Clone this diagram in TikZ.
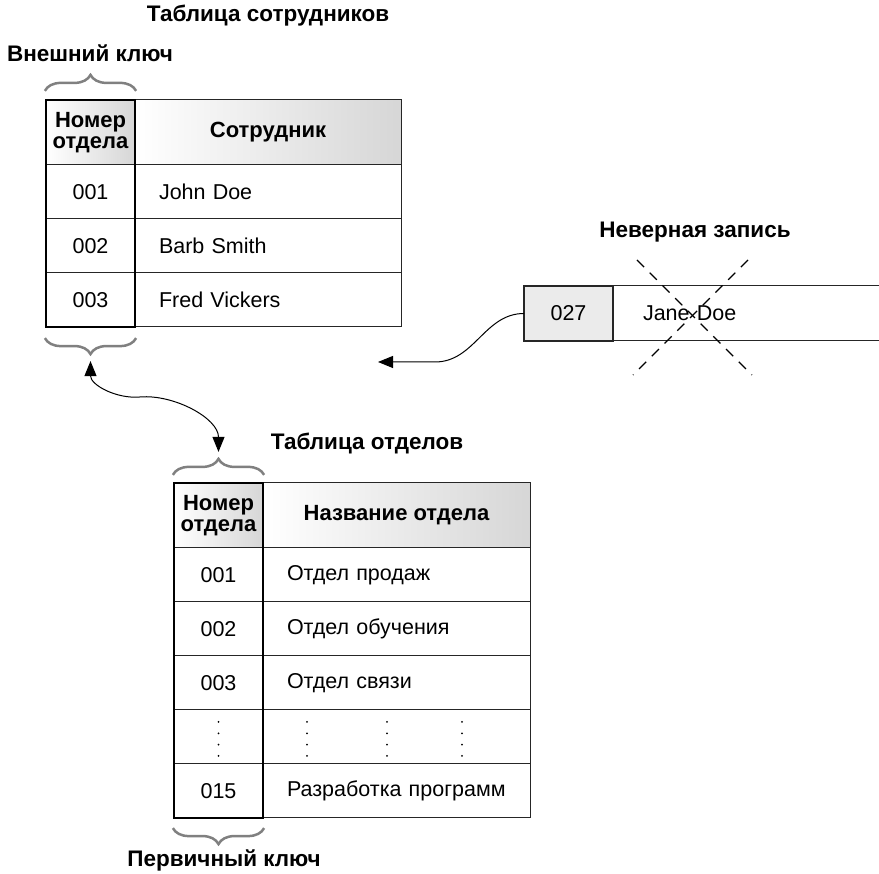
\documentclass[tikz,border=0pt]{standalone}
\usepackage{fontspec}
\setmainfont{Liberation Sans}
\usetikzlibrary{positioning,fit,arrows.meta,decorations.pathreplacing}

\begin{document}
\begin{tikzpicture}
		[x=1pt, y=1pt, font=\fontsize{21.5}{21}\selectfont,
		node distance=0pt,
		cell/.style={draw=black!85, line width=1pt, inner sep=0pt, outer sep=0pt,
			minimum height=54pt},
		keycell/.style={cell, minimum width=89pt, align=center},
		namecell/.style={cell, minimum width=266pt, text width=266pt, align=left,
			execute at begin node={\hspace*{#1}}},
		namecell/.default=24pt,
		head/.style={minimum height=65pt, left color=white, right color=black!16,
			font=\fontsize{22}{21}\selectfont\bfseries},
		keyframe/.style={draw, line width=2.2pt, inner sep=0pt},
		keybrace/.style={draw=black!50, line width=2.5pt, decorate,
			decoration={brace, amplitude=16pt}},
		title/.style={font=\fontsize{22.5}{22}\selectfont\bfseries, anchor=base},
		tip/.style={Triangle[length=15pt,width=12pt]},
		link/.style={line width=1pt, -{Triangle[length=15pt,width=12pt]}},
		twolink/.style={line width=1pt, {Triangle[length=15pt,width=12pt]}-{Triangle[length=15pt,width=12pt]}},
		cross/.style={dash pattern=on 10pt off 8pt, line width=1.3pt},
		dots/.style={line width=2pt, line cap=round, dash pattern=on 0pt off 11.33pt},
		]
		\useasboundingbox (0,0) rectangle (879,874);
		
		% employees
		\node[keycell, head, anchor=north west] (ek0) at (46,774) {Номер\\отдела};
		\node[cell, head, minimum width=266pt, right=of ek0] (en0) {Сотрудник};
		\node[keycell, below=of ek0] (ek1) {001};
		\node[namecell, right=of ek1] (en1) {John Doe};
		\node[keycell, below=of ek1] (ek2) {002};
		\node[namecell, right=of ek2] (en2) {Barb Smith};
		\node[keycell, below=of ek2] (ek3) {003};
		\node[namecell, right=of ek3] (en3) {Fred Vickers};
		\node[keyframe, fit=(ek0)(ek3)] (ekey) {};
		
		% departments
		\node[keycell, head, anchor=north west] (dk0) at (174,391) {Номер\\отдела};
		\node[cell, head, minimum width=267pt, right=of dk0] (dn0) {Название отдела};
		\node[keycell, below=of dk0] (dk1) {001};
		\node[namecell, minimum width=267pt, text width=267pt, right=of dk1] (dn1) {Отдел продаж};
		\node[keycell, below=of dk1] (dk2) {002};
		\node[namecell, minimum width=267pt, text width=267pt, right=of dk2] (dn2) {Отдел обучения};
		\node[keycell, below=of dk2] (dk3) {003};
		\node[namecell, minimum width=267pt, text width=267pt, right=of dk3] (dn3) {Отдел связи};
		\node[keycell, below=of dk3] (dk4) {};
		\node[namecell, minimum width=267pt, text width=267pt, right=of dk4] (dn4) {};
		\node[keycell, below=of dk4] (dk5) {015};
		\node[namecell, minimum width=267pt, text width=267pt, right=of dk5] (dn5) {Разработка программ};
		\node[keyframe, fit=(dk0)(dk5)] (dkey) {};
		\foreach \x in {218.5,307,387,462}
			\draw[dots] (\x,152) -- (\x,117.5);
		
		% invalid record
		\node[keycell, line width=2.2pt, fill=black!8, minimum height=55pt,
			anchor=north west] (bk) at (524,588) {027};
		\node[namecell=30pt, minimum height=55pt, right=of bk] (bn) {Jane Doe};
		\draw[cross] (637,614) -- (752,499);
		\draw[cross] (748,614) -- (633,499);
		
		% braces
		\draw[keybrace] ([yshift=8pt]ekey.north west) -- ([yshift=8pt]ekey.north east);
		\draw[keybrace] ([yshift=-10pt]ekey.south east) -- ([yshift=-10pt]ekey.south west);
		\draw[keybrace] ([yshift=7pt]dkey.north west) -- ([yshift=7pt]dkey.north east);
		\draw[keybrace] ([yshift=-9pt]dkey.south east) -- ([yshift=-9pt]dkey.south west);
		
		\node[title] at (268,852) {Таблица сотрудников};
		\node[title] at (90,812) {Внешний ключ};
		\node[title] at (695,636) {Неверная запись};
		\node[title] at (367,424) {Таблица отделов};
		\node[title] at (224,7) {Первичный ключ};
		
		% links
		\coordinate (fk) at ([yshift=-33pt]ekey.south);
		\coordinate (pk) at ([yshift=30pt]dkey.north);
		\coordinate (lk) at (140,477);
		\draw[twolink] (fk) to[out=-90,in=185] (lk)
			to[out=5,in=90,looseness=0.9] (pk);
		\coordinate (wv) at (435,512);
		\coordinate (miss) at (378,512);
		\draw[link] (bk.west) to[out=180,in=0] (wv) -- (miss);
		
	\end{tikzpicture}
\end{document}
